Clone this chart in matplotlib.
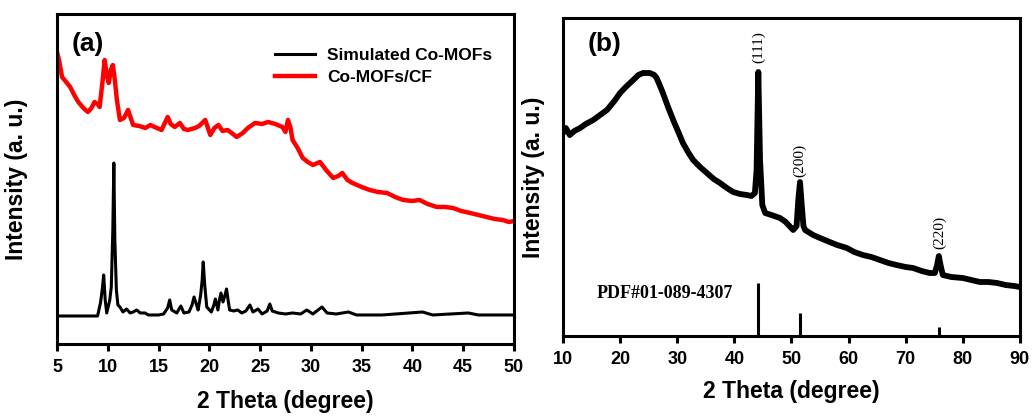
import matplotlib
matplotlib.use("Agg")
import matplotlib.pyplot as plt

plt.rcParams['font.family'] = ['Liberation Sans', 'DejaVu Sans']
plt.rcParams['font.weight'] = 'bold'

# ---- panel (a): Co-MOFs, intensities (arb. units)
sim_theta = [5.0, 9.0, 9.3, 9.45, 9.6, 9.75, 9.9, 10.2, 10.35, 10.5, 10.6, 10.7,
             10.85, 11.0, 11.2, 11.5, 11.85, 12.2, 12.5, 12.85, 13.2, 13.67, 14.0,
             15.0, 15.5, 15.9, 16.1, 16.3, 16.8, 17.2, 17.5, 18.0, 18.3, 18.5,
             18.75, 18.9, 19.15, 19.3, 19.4, 19.55, 19.75, 20.2, 20.45, 20.6,
             20.85, 21.0, 21.15, 21.35, 21.55, 21.7, 21.85, 22.0, 22.4, 22.8,
             23.2, 23.6, 24.0, 24.3, 24.8, 25.2, 25.7, 25.96, 26.2, 26.8, 27.5,
             28.2, 29.0, 29.6, 30.2, 31.1, 31.6, 32.5, 33.7, 34.5, 37.0, 41.0,
             42.0, 45.5, 46.5, 50.0]
sim_int = [28, 28, 42, 54, 69, 44, 31, 44, 57, 114, 181, 104,
           54, 39, 37, 32, 35, 31, 32, 34, 31, 31, 29,
           29, 30, 36, 44, 34, 31, 38, 31, 32, 39, 47,
           39, 34, 49, 64, 82, 59, 37, 32, 39, 45,
           34, 44, 51, 42, 49, 55, 44, 34, 33, 34,
           31, 33, 39, 32, 35, 30, 33, 40, 33, 31, 30,
           31, 30, 34, 30, 37, 31, 30, 32, 29, 29, 32,
           29, 31, 29, 29]

cf_theta = [5.0, 5.2, 5.5, 5.9, 6.3, 6.7, 7.1, 7.6, 8.05, 8.4, 8.7, 9.0, 9.2,
            9.45, 9.7, 9.9, 10.1, 10.3, 10.5, 10.7, 10.9, 11.2, 11.6, 12.0,
            12.5, 13.1, 13.7, 14.2, 14.6, 15.3, 15.9, 16.2, 16.6, 17.1, 17.5,
            17.9, 18.6, 19.0, 19.6, 20.1, 20.5, 20.9, 21.3, 21.8, 22.2, 22.7,
            23.3, 23.8, 24.5, 25.2, 25.8, 26.5, 27.2, 27.5, 27.75, 28.0, 28.2,
            28.7, 29.2, 29.7, 30.2, 30.9, 31.5, 32.2, 32.7, 33.1, 33.6, 34.1,
            35.0, 35.8, 36.6, 37.5, 38.3, 39.1, 40.0, 40.7, 41.5, 42.4, 43.2,
            44.0, 44.8, 45.7, 46.5, 47.3, 48.1, 48.9, 49.5, 50.0]
cf_int = [292, 284, 267, 262, 257, 249, 242, 236, 232, 236, 242, 240, 237,
          259, 284, 269, 261, 274, 279, 264, 244, 224, 226, 234,
          219, 218, 216, 219, 217, 214, 227, 220, 217, 221, 215,
          214, 216, 218, 224, 209, 216, 219, 213, 214, 211, 207,
          211, 216, 221, 220, 222, 220, 217, 212, 224, 216, 204,
          196, 186, 182, 179, 182, 174, 166, 168, 171, 164, 161,
          157, 154, 152, 151, 147, 144, 143, 144, 140, 137, 137,
          136, 133, 131, 129, 127, 125, 124, 122, 123]

# ---- panel (b): CF substrate
cf_b_theta = [10.0, 10.5, 11.2, 12.0, 13.0, 14.0, 15.3, 16.5, 17.7, 19.0, 20.0,
              21.0, 22.3, 23.2, 24.0, 25.2, 26.0, 26.4, 27.0, 27.5, 28.4, 29.3,
              30.2, 31.0, 32.0, 32.8, 34.0, 35.2, 36.4, 37.5, 38.7, 39.8, 41.0,
              42.2, 43.0, 43.6, 43.9, 44.2, 44.5, 44.9, 45.4, 46.5, 48.0, 49.0,
              50.3, 50.9, 51.2, 51.5, 51.8, 52.1, 52.4, 53.8, 55.0, 56.7, 58.0,
              59.7, 61.0, 62.5, 64.0, 65.5, 67.0, 68.4, 70.0, 71.3, 72.8, 74.2,
              75.1, 75.5, 75.8, 76.1, 76.5, 78.0, 80.0, 81.5, 83.0, 84.5, 86.0,
              87.5, 89.0, 90.0]
cf_b_int = [203, 208, 201, 205, 208, 212, 216, 221, 226, 235, 243,
            249, 256, 261, 263, 263, 261, 258, 250, 243, 229, 216,
            204, 193, 183, 176, 169, 163, 157, 153, 148, 144, 142,
            141, 140, 143, 166, 264, 176, 131, 123, 121, 118, 114,
            106, 110, 136, 154, 131, 110, 106, 101, 98, 94, 91,
            88, 84, 81, 79, 76, 73, 71, 69, 68, 65, 63,
            63, 71, 80, 71, 61, 59, 58, 56, 54, 54, 53,
            51, 50, 49]

pdf_theta = [44.2, 51.5, 75.9]
pdf_int = [53, 23, 9]
hkl = ['(111)', '(200)', '(220)']
hkl_y = [289, 176, 104]

fig = plt.figure(figsize=(10.32, 4.16), dpi=100)
ax1 = fig.add_axes([0.0552, 0.1731, 0.4428, 0.7933])
ax2 = fig.add_axes([0.5455, 0.1923, 0.4428, 0.7644])

for ax in (ax1, ax2):
    for s in ax.spines.values():
        s.set_linewidth(2.2)
    ax.tick_params(axis='x', direction='out', length=5, width=2.2,
                   labelsize=13, pad=6)
    ax.set_yticks([])
    ax.set_ylabel('Intensity (a. u.)', fontsize=16.5, fontweight='bold')
    ax.set_xlabel('2 Theta (degree)', fontsize=16.5, fontweight='bold')

ax1.plot(sim_theta, sim_int, color='black', lw=2.2, label='Simulated Co-MOFs')
ax1.plot(cf_theta, cf_int, color='#ff0000', lw=3.2, label='Co-MOFs/CF')
ax1.set_xlim(5, 50)
ax1.set_ylim(0, 330)
ax1.set_xticks(range(5, 51, 5))
ax1.legend(loc='upper left', bbox_to_anchor=(0.477, 0.897), frameon=False,
           borderpad=0, borderaxespad=0, handlelength=2.3, handletextpad=0.7,
           labelspacing=0.4, prop={'size': 12.5, 'weight': 'bold'})
ax1.text(0.033, 0.945, '(a)', transform=ax1.transAxes, ha='left', va='top',
         fontsize=19, fontweight='bold')
ax1.yaxis.set_label_coords(-0.063, 0.5)
ax1.xaxis.set_label_coords(0.5, -0.138)

ax2.plot(cf_b_theta, cf_b_int, color='black', lw=4.2)
ax2.vlines(pdf_theta, 0, pdf_int, color='black', lw=2.2)
ax2.set_xlim(10, 90)
ax2.set_ylim(0, 318)
ax2.set_xticks(range(10, 91, 10))
for t, y, lab in zip(pdf_theta, hkl_y, hkl):
    ax2.text(t, y, lab, rotation=90, ha='center', va='center', fontsize=11,
             family='Liberation Serif', fontweight='normal')
ax2.text(15.95, 43, 'PDF#01-089-4307', ha='left', va='center', fontsize=13,
         family='Liberation Serif', fontweight='bold')
ax2.text(0.055, 0.956, '(b)', transform=ax2.transAxes, ha='left', va='top',
         fontsize=19, fontweight='bold')
ax2.yaxis.set_label_coords(-0.039, 0.5)
ax2.xaxis.set_label_coords(0.5, -0.138)

fig.savefig('out.png', dpi=100)
